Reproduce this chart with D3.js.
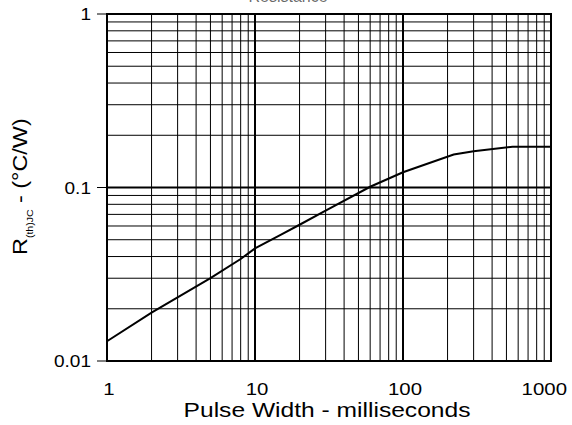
<!DOCTYPE html>
<html>
<head>
<meta charset="utf-8">
<script src="https://cdn.jsdelivr.net/npm/d3@7/dist/d3.min.js"></script>
<style>
  body { margin: 0; background: #fff; }
  text { font-family: "Liberation Sans", Arial, sans-serif; fill: #000; }
</style>
</head>
<body>
<svg id="chart" width="572" height="425"></svg>
<script>
// pulse width (ms) vs thermal resistance R(th)JC (°C/W)
var pulseWidth = [1, 2, 5, 8, 10, 15, 20, 30, 60, 100, 220, 300, 550, 1000];
var resistance = [0.013, 0.019, 0.030, 0.0387, 0.0446, 0.0535, 0.061, 0.0735, 0.101, 0.1224, 0.155, 0.162, 0.172, 0.172];

var xTicks = [1, 10, 100, 1000];
var xTickLabels = ["1", "10", "100", "1000"];
var yTicks = [0.01, 0.1, 1];
var yTickLabels = ["0.01", "0.1", "1"];

var svg = d3.select("#chart");
var W = 572;
// plot box (note: "top" is taken by window.top)
var plotL = 107, plotR = 551, plotT = 14, plotB = 361;

var x = d3.scaleLog().domain([1, 1000]).range([plotL, plotR]);
var y = d3.scaleLog().domain([0.01, 1]).range([plotB, plotT]);

// minor grid: 2..9 in every decade
var xGrid = [], yGrid = [];
[1, 10, 100].forEach(function(d) { for (var k = 2; k <= 9; k++) xGrid.push(d * k); });
[0.01, 0.1].forEach(function(d) { for (var k = 2; k <= 9; k++) yGrid.push(d * k); });

var grid = svg.append("g").attr("stroke", "#000");
grid.selectAll("line.vx").data(xGrid).enter().append("line")
    .attr("x1", x).attr("x2", x).attr("y1", plotT).attr("y2", plotB)
    .attr("stroke-width", 1);
grid.selectAll("line.hy").data(yGrid).enter().append("line")
    .attr("y1", y).attr("y2", y).attr("x1", plotL).attr("x2", plotR)
    .attr("stroke-width", 1);

// decade lines
grid.selectAll("line.dx").data([10, 100]).enter().append("line")
    .attr("x1", x).attr("x2", x).attr("y1", plotT).attr("y2", plotB)
    .attr("stroke-width", 2);
grid.selectAll("line.dy").data([0.1]).enter().append("line")
    .attr("y1", y).attr("y2", y).attr("x1", plotL).attr("x2", plotR)
    .attr("stroke-width", 2);

// frame
svg.append("rect")
    .attr("x", plotL).attr("y", plotT)
    .attr("width", plotR - plotL).attr("height", plotB - plotT)
    .attr("fill", "none").attr("stroke", "#000").attr("stroke-width", 2);

// y ticks (outside, to the left)
svg.append("g").selectAll("line").data(yTicks).enter().append("line")
    .attr("x1", plotL - 10).attr("x2", plotL).attr("y1", y).attr("y2", y)
    .attr("stroke", "#000").attr("stroke-width", 1);

// tick labels, a bit wide like the source
svg.append("g").selectAll("text").data(yTicks).enter().append("text")
    .attr("transform", function(d) { return "translate(91," + (y(d) + 6) + ") scale(1.12,1)"; })
    .attr("text-anchor", "end")
    .style("font-size", "17px")
    .text(function(d, i) { return yTickLabels[i]; });

var xs = 1.2;
svg.append("g").selectAll("text").data(xTicks).enter().append("text")
    .attr("text-anchor", "middle")
    .style("font-size", "17px")
    .text(function(d, i) { return xTickLabels[i]; })
    .attr("transform", function(d) {
      // keep the last label inside the page, as the source does
      var half = this.getComputedTextLength() * xs / 2;
      var cx = Math.min(x(d) + 2, W - 5 - half);
      return "translate(" + cx + ",395) scale(" + xs + ",1)";
    });

// curve
var line = d3.line()
    .x(function(d, i) { return x(pulseWidth[i]); })
    .y(function(d) { return y(d); });

svg.append("path")
    .datum(resistance)
    .attr("d", line)
    .attr("fill", "none")
    .attr("stroke", "#000")
    .attr("stroke-width", 2);

// axis titles
svg.append("text")
    .attr("transform", "translate(327,417) scale(1.2,1)")
    .attr("text-anchor", "middle")
    .style("font-size", "20.5px")
    .text("Pulse Width - milliseconds");

var yl = svg.append("text")
    .attr("transform", "translate(27,255) rotate(-90) scale(1.17,1)")
    .attr("text-anchor", "start")
    .style("font-size", "20px");
yl.append("tspan").text("R");
yl.append("tspan").attr("dy", 6).style("font-size", "9px").text("(th)JC");
yl.append("tspan").attr("dy", -6).text(" - (\u00B0C/W)");

// title, mostly cut off at the top edge
svg.append("text")
    .attr("x", 288).attr("y", 1.5)
    .attr("text-anchor", "middle")
    .style("font-size", "16px")
    .attr("fill-opacity", 0.6)
    .text("Resistance");
</script>
</body>
</html>
